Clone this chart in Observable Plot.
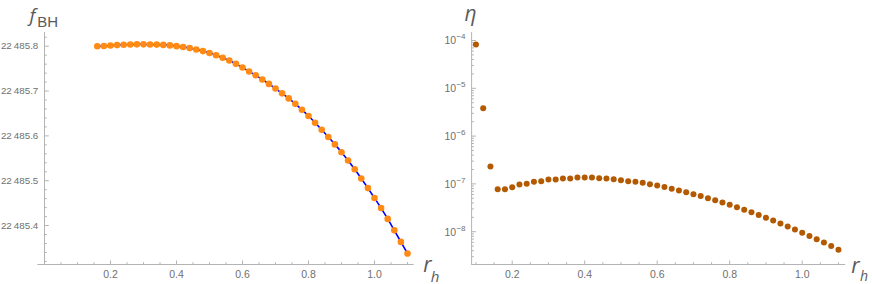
<!DOCTYPE html>
<html><head><meta charset="utf-8">
<script src="https://cdn.jsdelivr.net/npm/d3@7"></script>
<script src="https://cdn.jsdelivr.net/npm/@observablehq/plot@0.6"></script>
<style>
body{margin:0;background:#fff;}
#wrap{position:relative;width:872px;height:284px;overflow:hidden;background:#fff;}
#left,#right{position:absolute;top:0;}
#left{left:0}
#right{left:436px}
svg{overflow:visible}
</style></head><body>
<div id="wrap"><div id="left"></div><div id="right"></div></div>
<script>
// ---- left panel data: f_BH vs r_h ----
const rhLeft = [0.16,0.18,0.20,0.22,0.24,0.26,0.28,0.30,0.32,0.34,0.36,0.38,0.40,0.42,0.44,0.46,0.48,0.50,0.52,0.54,0.56,0.58,0.60,0.62,0.64,0.66,0.68,0.70,0.72,0.74,0.76,0.78,0.80,0.82,0.84,0.86,0.88,0.90,0.92,0.94,0.96,0.98,1.00,1.02,1.04,1.06,1.08,1.10];
const fBH = [22485.8000,22485.8004,22485.8016,22485.8025,22485.8033,22485.8038,22485.8042,22485.8042,22485.8040,22485.8036,22485.8029,22485.8018,22485.8002,22485.7982,22485.7958,22485.7926,22485.7891,22485.7848,22485.7799,22485.7743,22485.7681,22485.7607,22485.7525,22485.7436,22485.7351,22485.7257,22485.7159,22485.7056,22485.6949,22485.6836,22485.6715,22485.6584,22485.6443,22485.6294,22485.6137,22485.5975,22485.5810,22485.5636,22485.5450,22485.5254,22485.5049,22485.4835,22485.4614,22485.4389,22485.4148,22485.3893,22485.3635,22485.3376];

// ---- right panel data: eta vs r_h ----
const rhRight = [0.10,0.12,0.14,0.16,0.18,0.20,0.22,0.24,0.26,0.28,0.30,0.32,0.34,0.36,0.38,0.40,0.42,0.44,0.46,0.48,0.50,0.52,0.54,0.56,0.58,0.60,0.62,0.64,0.66,0.68,0.70,0.72,0.74,0.76,0.78,0.80,0.82,0.84,0.86,0.88,0.90,0.92,0.94,0.96,0.98,1.00,1.02,1.04,1.06,1.08,1.10];
const eta = [8.24e-5,3.84e-6,2.31e-7,7.75e-8,7.75e-8,8.53e-8,9.71e-8,1.005e-7,1.106e-7,1.139e-7,1.236e-7,1.236e-7,1.297e-7,1.297e-7,1.36e-7,1.36e-7,1.36e-7,1.315e-7,1.297e-7,1.254e-7,1.194e-7,1.139e-7,1.106e-7,1.054e-7,9.89e-8,9.23e-8,8.57e-8,7.92e-8,7.30e-8,6.68e-8,6.11e-8,5.56e-8,5.04e-8,4.54e-8,4.07e-8,3.65e-8,3.25e-8,2.88e-8,2.55e-8,2.24e-8,1.96e-8,1.71e-8,1.49e-8,1.29e-8,1.11e-8,9.55e-9,8.17e-9,6.97e-9,5.92e-9,5.00e-9,4.21e-9];

// ---- ticks ----
const xMajor = [0.2,0.4,0.6,0.8,1.0];
const xMajorLabels = ["0.2","0.4","0.6","0.8","1.0"];
const xMinorLeft = [0.05,0.1,0.15,0.25,0.3,0.35,0.45,0.5,0.55,0.65,0.7,0.75,0.85,0.9,0.95,1.05,1.1];
const xMinorRight = [0.1,0.15,0.25,0.3,0.35,0.45,0.5,0.55,0.65,0.7,0.75,0.85,0.9,0.95,1.05,1.1];
const fMajor = [22485.4,22485.5,22485.6,22485.7,22485.8];
const fMajorLabels = ["22\u2009485.4","22\u2009485.5","22\u2009485.6","22\u2009485.7","22\u2009485.8"];
const fMinor = [22485.32,22485.34,22485.36,22485.38,22485.42,22485.44,22485.46,22485.48,22485.52,22485.54,22485.56,22485.58,22485.62,22485.64,22485.66,22485.68,22485.72,22485.74,22485.76,22485.78,22485.82];
const etaMajor = [1e-8,1e-7,1e-6,1e-5,1e-4];
const etaExpLabels = ["\u22128","\u22127","\u22126","\u22125","\u22124"];
const etaMinor = [3e-9,4e-9,5e-9,6e-9,7e-9,8e-9,9e-9,2e-8,3e-8,4e-8,5e-8,6e-8,7e-8,8e-8,9e-8,2e-7,3e-7,4e-7,5e-7,6e-7,7e-7,8e-7,9e-7,2e-6,3e-6,4e-6,5e-6,6e-6,7e-6,8e-6,9e-6,2e-5,3e-5,4e-5,5e-5,6e-5,7e-5,8e-5,9e-5];

const xDomLeft = [-0.02, 1.12];
const yDomLeft = [22485.3131, 22485.8306];
const xDomRight = [0.088, 1.12];
const yDomRight = [2.06e-9, 1.47e-4];

// ---- styling ----
const AX = "#b4b4b4";
const LBL = "#707070";
const TTL = "#5a5a5a";
const tickFont = "Liberation Sans, Arial, sans-serif";
const titleFont = "Open Sans, Noto Sans, sans-serif";
const tickUp = len => ({draw(ctx){ctx.moveTo(0,0); ctx.lineTo(0,-len);}});
const tickRight = len => ({draw(ctx){ctx.moveTo(0,0); ctx.lineTo(len,0);}});

const left = Plot.plot({
  width: 436, height: 284,
  marginLeft: 37.4, marginRight: 22.4, marginTop: 32, marginBottom: 20,
  style: {background: "transparent", overflow: "visible"},
  x: {domain: xDomLeft, axis: null},
  y: {domain: yDomLeft, axis: null},
  marks: [
    Plot.ruleY([yDomLeft[0]], {stroke: AX, strokeWidth: 1}),
    Plot.ruleX([0], {stroke: AX, strokeWidth: 1}),
    Plot.dot(xMajor, {x: d => d, frameAnchor: "bottom", symbol: tickUp(4), stroke: AX, fill: "none", strokeWidth: 1}),
    Plot.dot(xMinorLeft, {x: d => d, frameAnchor: "bottom", symbol: tickUp(2.3), stroke: AX, fill: "none", strokeWidth: 1}),
    Plot.dot(fMajor, {x: () => 0, y: d => d, symbol: tickRight(4.3), stroke: AX, fill: "none", strokeWidth: 1}),
    Plot.dot(fMinor, {x: () => 0, y: d => d, symbol: tickRight(2.3), stroke: AX, fill: "none", strokeWidth: 1}),
    Plot.text(xMajor, {x: d => d, frameAnchor: "bottom", text: (d, i) => xMajorLabels[i], dy: 10.5, lineAnchor: "middle", textAnchor: "middle", fontSize: 10.5, fontFamily: tickFont, fill: LBL}),
    Plot.text(fMajor, {x: () => 0, y: d => d, text: (d, i) => fMajorLabels[i], dx: -6.2, textAnchor: "end", lineAnchor: "middle", fontSize: 9.8, fontFamily: tickFont, fill: LBL}),
    Plot.line(fBH, {x: rhLeft, y: fBH, stroke: "#0000ff", strokeWidth: 1.6, curve: "catmull-rom"}),
    Plot.dot(fBH, {x: rhLeft, y: fBH, r: 3.3, fill: "#ff8a14", stroke: "none"}),
    Plot.text(["f"], {frameAnchor: "top-left", dx: -8.4, dy: -11, textAnchor: "start", lineAnchor: "bottom", fontSize: 19, fontStyle: "italic", fontFamily: titleFont, fill: TTL}),
    Plot.text(["BH"], {frameAnchor: "top-left", dx: -0.6, dy: -6, textAnchor: "start", lineAnchor: "bottom", fontSize: 15, fontFamily: tickFont, fill: TTL}),
    Plot.text(["r"], {frameAnchor: "bottom-right", dx: 9.1, dy: 7.7, textAnchor: "start", lineAnchor: "bottom", fontSize: 21, fontStyle: "italic", fontFamily: titleFont, fill: TTL}),
    Plot.text(["h"], {frameAnchor: "bottom-right", dx: 16.6, dy: 17, textAnchor: "start", lineAnchor: "bottom", fontSize: 15, fontStyle: "italic", fontFamily: titleFont, fill: TTL})
  ]
});
document.getElementById("left").appendChild(left);

const right = Plot.plot({
  width: 436, height: 284,
  marginLeft: 35.1, marginRight: 26.8, marginTop: 32, marginBottom: 20,
  style: {background: "transparent", overflow: "visible"},
  x: {domain: xDomRight, axis: null},
  y: {type: "log", domain: yDomRight, axis: null},
  marks: [
    Plot.ruleY([yDomRight[0]], {stroke: AX, strokeWidth: 1}),
    Plot.ruleX([xDomRight[0]], {stroke: AX, strokeWidth: 1}),
    Plot.dot(xMajor, {x: d => d, frameAnchor: "bottom", symbol: tickUp(4), stroke: AX, fill: "none", strokeWidth: 1}),
    Plot.dot(xMinorRight, {x: d => d, frameAnchor: "bottom", symbol: tickUp(2.3), stroke: AX, fill: "none", strokeWidth: 1}),
    Plot.dot(etaMajor, {frameAnchor: "left", y: d => d, symbol: tickRight(4.3), stroke: AX, fill: "none", strokeWidth: 1}),
    Plot.dot(etaMinor, {frameAnchor: "left", y: d => d, symbol: tickRight(2.3), stroke: AX, fill: "none", strokeWidth: 1}),
    Plot.text(xMajor, {x: d => d, frameAnchor: "bottom", text: (d, i) => xMajorLabels[i], dy: 10.5, lineAnchor: "middle", textAnchor: "middle", fontSize: 10.5, fontFamily: tickFont, fill: LBL}),
    Plot.text(etaMajor, {frameAnchor: "left", y: d => d, text: () => "10", dx: -15.4, dy: 0.5, textAnchor: "end", lineAnchor: "middle", fontSize: 10.5, fontFamily: tickFont, fill: LBL}),
    Plot.text(etaMajor, {frameAnchor: "left", y: d => d, text: (d, i) => etaExpLabels[i], dx: -15.2, dy: -3.6, textAnchor: "start", lineAnchor: "middle", fontSize: 8, fontFamily: tickFont, fill: LBL}),
    Plot.dot(eta, {x: rhRight, y: eta, r: 3, fill: "#b35900", stroke: "none"}),
    Plot.text(["\u03b7"], {frameAnchor: "top-left", dx: -7, dy: -12, textAnchor: "start", lineAnchor: "bottom", fontSize: 21, fontStyle: "italic", fontFamily: titleFont, fill: TTL}),
    Plot.text(["r"], {frameAnchor: "bottom-right", dx: 5.6, dy: 8, textAnchor: "start", lineAnchor: "bottom", fontSize: 21, fontStyle: "italic", fontFamily: titleFont, fill: TTL}),
    Plot.text(["h"], {frameAnchor: "bottom-right", dx: 14.2, dy: 16, textAnchor: "start", lineAnchor: "bottom", fontSize: 14, fontStyle: "italic", fontFamily: titleFont, fill: TTL})
  ]
});
document.getElementById("right").appendChild(right);
</script>
</body></html>
